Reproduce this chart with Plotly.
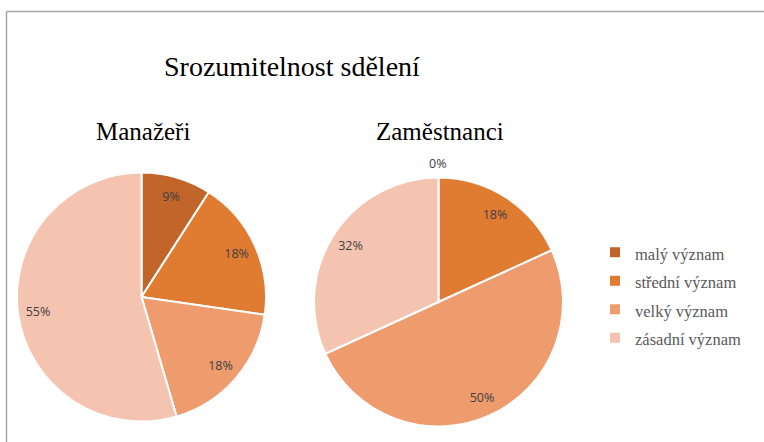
import plotly.graph_objects as go

title = "Srozumitelnost sdělení"
categories = ["malý význam", "střední význam", "velký význam", "zásadní význam"]
group_names = ["Manažeři", "Zaměstnanci"]
managers = [1, 2, 2, 6]
employees = [0, 4, 11, 7]
colors = ["#C2652A", "#E07B32", "#EE9B6E", "#F4C4B1"]

W, H = 764, 442
SERIF = "Liberation Serif, Times New Roman, serif"

def px_dom(cx, cy, r):
    return dict(x=[(cx - r) / W, (cx + r) / W], y=[1 - (cy + r) / H, 1 - (cy - r) / H])

labels = [f'<span style="font-size:16.5px">{c}</span>' for c in categories]

fig = go.Figure()
pies = [(managers, px_dom(141.5, 297, 124.5)), (employees, px_dom(438.5, 302, 124.5))]
for vals, dom in pies:
    # solid pie (no text)
    fig.add_trace(go.Pie(
        labels=labels, values=vals, sort=False, direction="clockwise", rotation=0,
        marker=dict(colors=colors, line=dict(color="white", width=2)),
        textinfo="none", domain=dom, hoverinfo="label+percent", showlegend=True,
    ))
    # transparent ring carrying the percentage labels near the rim
    fig.add_trace(go.Pie(
        labels=labels, values=vals, sort=False, direction="clockwise", rotation=0,
        hole=0.68,
        marker=dict(colors=["rgba(0,0,0,0)"] * len(vals), line=dict(width=0)),
        texttemplate="%{percent:.0%}", textposition="inside",
        insidetextorientation="horizontal",
        textfont=dict(family="Open Sans", size=12.5, color="#404040"),
        domain=dom, hoverinfo="skip", showlegend=False,
    ))

# label for the empty slice (drawn above the pie, as in the original)
zero_idx = employees.index(0)
zero_pct = f"{round(100 * employees[zero_idx] / sum(employees))}%"

annotations = [
    dict(text=title, x=292 / W, y=1 - 66 / H, xref="paper", yref="paper",
         showarrow=False, font=dict(family=SERIF, size=28, color="#000000"),
         xanchor="center", yanchor="middle"),
    dict(text=group_names[0], x=142.5 / W, y=1 - 131 / H, xref="paper", yref="paper",
         showarrow=False, font=dict(family=SERIF, size=25, color="#000000"),
         xanchor="center", yanchor="middle"),
    dict(text=group_names[1], x=440 / W, y=1 - 131 / H, xref="paper", yref="paper",
         showarrow=False, font=dict(family=SERIF, size=25, color="#000000"),
         xanchor="center", yanchor="middle"),
    dict(text=zero_pct, x=437 / W, y=1 - 163 / H, xref="paper", yref="paper",
         showarrow=False, font=dict(family="Open Sans", size=12.5, color="#404040"),
         xanchor="center", yanchor="middle"),
]

fig.update_layout(
    width=W, height=H,
    margin=dict(l=0, r=0, t=0, b=0),
    paper_bgcolor="white", plot_bgcolor="white",
    annotations=annotations,
    legend=dict(x=595 / W, y=1 - 233 / H, xanchor="left", yanchor="top",
                font=dict(family=SERIF, size=19.6, color="#595959"),
                bgcolor="rgba(0,0,0,0)"),
    shapes=[
        dict(type="line", xref="paper", yref="paper", x0=6.5 / W, x1=1.01, y0=1 - 11.5 / H, y1=1 - 11.5 / H,
             line=dict(color="#A6A6A6", width=1.5)),
        dict(type="line", xref="paper", yref="paper", x0=6.5 / W, x1=6.5 / W, y0=1 - 11.5 / H, y1=-0.01,
             line=dict(color="#A6A6A6", width=1.5)),
    ],
)

fig.write_html("out.html", config={"displayModeBar": False},
               post_script="document.body.style.margin='0';")
